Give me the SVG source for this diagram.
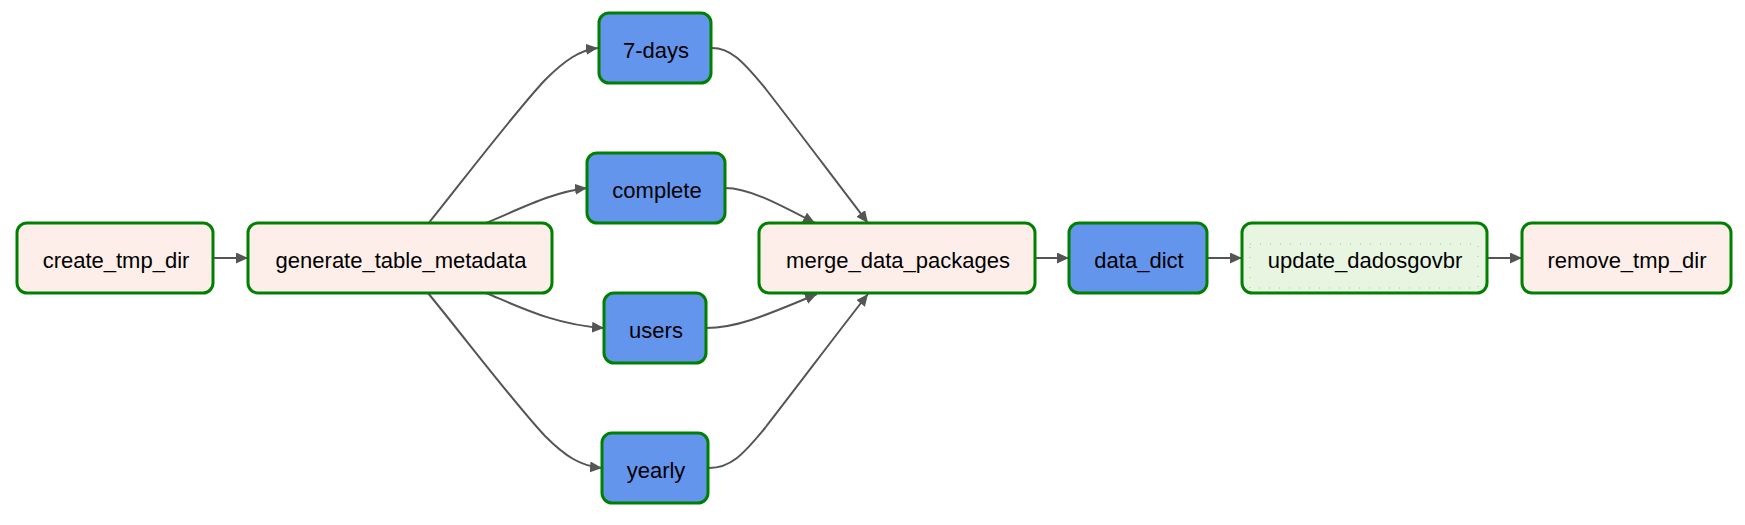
<svg xmlns="http://www.w3.org/2000/svg" width="1745" height="525" viewBox="0 0 1745 525">
<style>
.node rect{stroke:#008000;stroke-width:3}
.pale{fill:#fdeee9}
.blue{fill:#6495ed}
.green{fill:#e7f5e1}
.node text{font-family:"Liberation Sans",Arial,sans-serif;font-size:22px;fill:#000;text-anchor:middle}
.edge{fill:none;stroke:#555;stroke-width:2;marker-end:url(#arr)}
</style>
<defs>
<marker id="arr" markerUnits="userSpaceOnUse" markerWidth="14" markerHeight="12" refX="12" refY="5.5" orient="auto">
<path d="M0,0 L12,5.5 L0,11 z" fill="#555"/>
</marker>
</defs>
<rect width="1745" height="525" fill="#fff"/>
<g id="edges">
<path class="edge" d="M213,258 L248,258"/>
<path class="edge" d="M428,224 C468,174 515,112 545,80 C565,60 580,50 598,48"/>
<path class="edge" d="M486,223 C520,209 552,192 587,188"/>
<path class="edge" d="M486,293 C522,308 556,325 604,328"/>
<path class="edge" d="M428,293 C468,342 515,404 545,436 C565,456 580,466 602,468"/>
<path class="edge" d="M712,48 C730,48 742,60 765,88 C800,133 835,180 868,223"/>
<path class="edge" d="M725,188 C748,188 775,202 815,223"/>
<path class="edge" d="M706,328 C735,328 760,318 817,294"/>
<path class="edge" d="M709,468 C730,468 742,456 765,428 C800,383 835,336 868,294"/>
<path class="edge" d="M1035,258 L1069,258"/>
<path class="edge" d="M1207,258 L1242,258"/>
<path class="edge" d="M1487,258 L1522,258"/>
</g>
<g id="create_tmp_dir" class="node">
<rect class="pale" x="17" y="223" width="196" height="70" rx="10"/>
<text x="116" y="268">create_tmp_dir</text>
</g>
<g id="generate_table_metadata" class="node">
<rect class="pale" x="248" y="223" width="304" height="70" rx="10"/>
<text x="401" y="268">generate_table_metadata</text>
</g>
<g id="days7" class="node">
<rect class="blue" x="599" y="13" width="112" height="70" rx="10"/>
<text x="656" y="58">7-days</text>
</g>
<g id="complete" class="node">
<rect class="blue" x="587" y="153" width="138" height="70" rx="10"/>
<text x="657" y="198">complete</text>
</g>
<g id="users" class="node">
<rect class="blue" x="604" y="293" width="102" height="70" rx="10"/>
<text x="656" y="338">users</text>
</g>
<g id="yearly" class="node">
<rect class="blue" x="602" y="433" width="106" height="70" rx="10"/>
<text x="656" y="478">yearly</text>
</g>
<g id="merge_data_packages" class="node">
<rect class="pale" x="759" y="223" width="276" height="70" rx="10"/>
<text x="898" y="268">merge_data_packages</text>
</g>
<g id="data_dict" class="node">
<rect class="blue" x="1069" y="223" width="138" height="70" rx="10"/>
<text x="1139" y="268">data_dict</text>
</g>
<g id="update_dadosgovbr" class="node">
<rect class="green" x="1242" y="223" width="245" height="70" rx="10"/>
<rect x="1250" y="244" width="228" height="44" fill="none" style="stroke:#3a8fc0;stroke-width:1;stroke-dasharray:1 9;opacity:0.5"/>
<text x="1365" y="268">update_dadosgovbr</text>
</g>
<g id="remove_tmp_dir" class="node">
<rect class="pale" x="1522" y="223" width="209" height="70" rx="10"/>
<text x="1627" y="268">remove_tmp_dir</text>
</g>
</svg>
